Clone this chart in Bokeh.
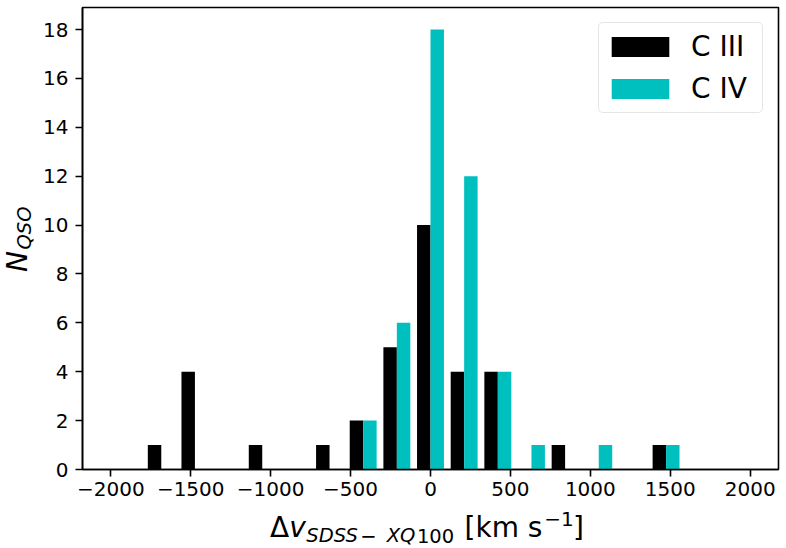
import math
from bokeh.plotting import figure
from bokeh.models import Range1d, FixedTicker, Label, Legend, LegendItem, ColumnDataSource
from bokeh.layouts import row, column
from bokeh.embed import file_html
from bokeh.resources import INLINE

# ---- data ----
bin_centers = [-1894.7, -1684.2, -1473.7, -1263.2, -1052.6, -842.1, -631.6,
               -421.1, -210.5, 0.0, 210.5, 421.1, 631.6, 842.1, 1052.6,
               1263.2, 1473.7, 1684.2, 1894.7]
bin_width = 210.5
counts_c3 = [0, 1, 4, 0, 1, 0, 1, 2, 5, 10, 4, 4, 0, 1, 0, 0, 1, 0, 0]
counts_c4 = [0, 0, 0, 0, 0, 0, 0, 2, 6, 18, 12, 4, 1, 0, 1, 0, 1, 0, 0]
series_names = ["C III", "C IV"]
series_colors = ["#000000", "#00bfbf"]
x_ticks = [-2000, -1500, -1000, -500, 0, 500, 1000, 1500, 2000]
y_ticks = [0, 2, 4, 6, 8, 10, 12, 14, 16, 18]

FONT = "DejaVu Sans"
W, H = 786, 548
LEFT_W = 40      # strip holding the y label
BOT_H = 43       # strip holding the x label
MAIN_W, MAIN_H = W - LEFT_W, H - BOT_H
FRAME_LEFT, FRAME_TOP, FRAME_BOTTOM = 81, 7, 469

p = figure(width=MAIN_W, height=MAIN_H, output_backend="svg", toolbar_location=None,
           x_range=Range1d(-2177, 2177), y_range=Range1d(0, 18.9),
           min_border_left=FRAME_LEFT - LEFT_W, min_border_right=8,
           min_border_top=FRAME_TOP, min_border_bottom=MAIN_H - FRAME_BOTTOM)
p.background_fill_color = "white"
p.border_fill_color = "white"
p.outline_line_color = "black"
p.outline_line_width = 1.6
p.xgrid.visible = False
p.ygrid.visible = False

bar_w = 0.4 * bin_width
src3 = ColumnDataSource(dict(x=[c - bar_w / 2 for c in bin_centers], top=counts_c3))
src4 = ColumnDataSource(dict(x=[c + bar_w / 2 for c in bin_centers], top=counts_c4))
r3 = p.vbar(x="x", top="top", bottom=0, width=bar_w, source=src3,
            fill_color=series_colors[0], line_color=None)
r4 = p.vbar(x="x", top="top", bottom=0, width=bar_w, source=src4,
            fill_color=series_colors[1], line_color=None)

for ax in (p.xaxis[0], p.yaxis[0]):
    ax.axis_line_width = 1.6
    ax.major_tick_line_width = 1.6
    ax.major_tick_out = 7
    ax.major_tick_in = 0
    ax.minor_tick_line_color = None
    ax.major_label_text_font = FONT
    ax.major_label_text_font_size = "20px"
    ax.major_label_text_color = "black"
    ax.axis_label = None

p.xaxis.ticker = FixedTicker(ticks=x_ticks)
p.xaxis.major_label_overrides = {t: str(t).replace("-", "\u2212") for t in x_ticks}
p.xaxis.major_label_standoff = 5
p.yaxis.ticker = FixedTicker(ticks=y_ticks)
p.yaxis.major_label_standoff = 7

legend = Legend(items=[LegendItem(label=series_names[0], renderers=[r3]),
                       LegendItem(label=series_names[1], renderers=[r4])],
                location="top_right")
legend.margin = 15
legend.padding = 5
legend.spacing = 5
legend.glyph_width = 72
legend.glyph_height = 25
legend.label_height = 37
legend.label_width = 66
legend.label_standoff = 15
legend.label_text_font = FONT
legend.label_text_font_size = "28px"
legend.label_text_color = "black"
legend.border_line_color = "#cccccc"
legend.border_line_width = 1.5
legend.background_fill_color = "white"
legend.background_fill_alpha = 0.8
try:
    legend.border_radius = 5
except Exception:
    pass
p.add_layout(legend)


def strip(width, height, y_top, y_bottom):
    """A bare figure whose data coordinates equal the page's pixel coordinates."""
    f = figure(width=width, height=height, output_backend="svg", toolbar_location=None,
               x_range=Range1d(0, width), y_range=Range1d(y_bottom, y_top),
               x_axis_type=None, y_axis_type=None, min_border=0)
    f.outline_line_color = None
    f.background_fill_color = "white"
    f.border_fill_color = "white"
    f.xgrid.visible = False
    f.ygrid.visible = False
    return f


# the left strip's frame is aligned by the row with the main frame (7..469)
left = strip(LEFT_W, MAIN_H, FRAME_TOP, FRAME_BOTTOM)
bottom = strip(W, BOT_H, MAIN_H, H)


def add_text(fig, txt, cx, cy, size, italic=False, angle=0.0):
    # anchored at the centre of the text box (robust under rotation)
    fig.add_layout(Label(x=cx, y=cy, text=txt, text_font=FONT, text_font_size=size,
                         text_font_style="italic" if italic else "normal",
                         text_color="black", text_baseline="middle",
                         text_align="center", angle=angle))


MAIN, SUB, SUP = "28px", "19.5px", "20px"
# x label: Δv_{SDSS−XQ100} [km s^{−1}]
add_text(bottom, "\u0394", 279.2, 527.3, MAIN)
add_text(bottom, "v", 297.1, 527.3, MAIN, italic=True)
add_text(bottom, "SDSS", 331.6, 535.3, SUB, italic=True)
add_text(bottom, "\u2212", 368.0, 535.3, SUB)
add_text(bottom, "XQ", 400.5, 535.3, SUB, italic=True)
add_text(bottom, "100", 435.0, 535.3, SUB)
add_text(bottom, "[km s", 503.0, 527.3, MAIN)
add_text(bottom, "\u22121", 558.5, 518.1, SUP)
add_text(bottom, "]", 577.9, 527.3, MAIN)
# y label: N_{QSO}
add_text(left, "N", 16.5, 261.0, MAIN, italic=True, angle=math.pi / 2)
add_text(left, "QSO", 24.0, 227.5, SUB, italic=True, angle=math.pi / 2)

layout = column(row(left, p, spacing=0), bottom, spacing=0)
open("out.html", "w").write(file_html(layout, INLINE))
